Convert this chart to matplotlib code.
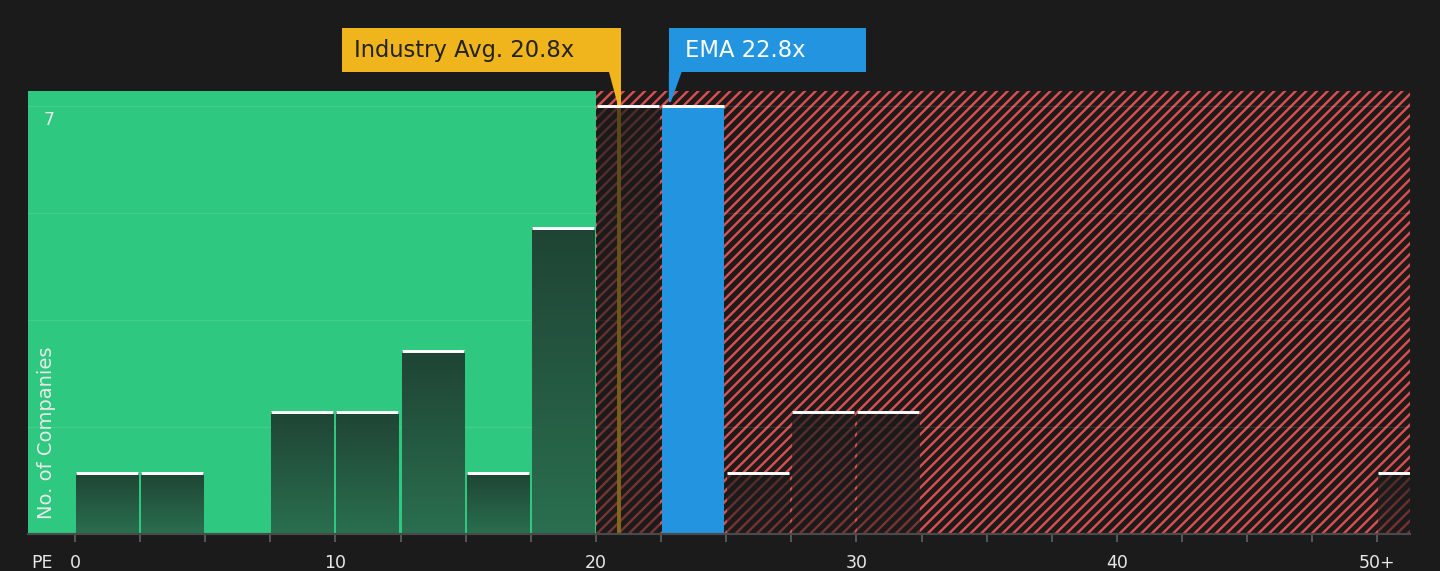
import numpy as np
import matplotlib
matplotlib.use("Agg")
import matplotlib.pyplot as plt
from matplotlib import transforms
from matplotlib.patches import Rectangle, Polygon
from matplotlib.colors import to_rgba

# ---------------- data ----------------
bin_left = [0, 2.5, 5, 7.5, 10, 12.5, 15, 17.5, 20, 22.5, 25, 27.5, 30,
            32.5, 35, 37.5, 40, 42.5, 45, 47.5, 50]
counts = [1, 1, 0, 2, 2, 3, 1, 5, 7, 7, 1, 2, 2, 0, 0, 0, 0, 0, 0, 0, 1]
bin_width = 2.5
industry_avg = 20.8
ema = 22.8
fair_cut = 20
tick_values = [0, 10, 20, 30, 40, 50]
tick_labels = ["0", "10", "20", "30", "40", "50+"]
y_grid = [0, 1.75, 3.5, 5.25, 7]
y_label_value = 7
industry_text = "Industry Avg. 20.8x"
ema_text = "EMA 22.8x"
x_name = "PE"
y_name = "No. of Companies"

# ---------------- style ----------------
BG = "#1b1b1b"
GREEN = "#2ec880"
RED_HATCH = "#d85050"
GOLD = "#f0b41c"
BLUE = "#2394e0"
TXT = "#e8e8e8"

plt.rcParams["font.family"] = ["DejaVu Sans"]
plt.rcParams["hatch.color"] = RED_HATCH
plt.rcParams["hatch.linewidth"] = 0.9

DPI = 192
fig = plt.figure(figsize=(1440 / DPI, 571 / DPI), dpi=DPI, facecolor=BG)
ax = fig.add_axes([28 / 1440, 37 / 571, 1382 / 1440, 443 / 571])
ax.set_facecolor(BG)

xmin, xmax = -1.8, 51.25
ymin, ymax = 0, 7.245
px = 1 / 26.05  # one pixel in data-x units

# background zones
ax.axvspan(xmin, fair_cut, facecolor=GREEN, edgecolor="none", zorder=0.2)
ax.axvspan(fair_cut, xmax, facecolor="#1e1a1a", edgecolor=RED_HATCH,
           hatch="//////", linewidth=0, zorder=0.2)

# grid
ax.set_axisbelow(True)
ax.set_yticks(y_grid)
ax.yaxis.grid(True, color="white", alpha=0.10, linewidth=0.5)
ax.tick_params(axis="y", length=0, labelleft=False)

# industry average line
mix = transforms.blended_transform_factory(ax.transData, ax.transAxes)
box_bottom, box_top = 1.043, 1.142
tail_tip = 0.975
line_x = industry_avg + 2.5 * px
ax.plot([line_x, line_x], [0, box_bottom], transform=mix,
        color=GOLD, linewidth=1.5, zorder=1, clip_on=False,
        solid_capstyle="butt")

# bars
gap = 0.04
bars = ax.bar(np.array(bin_left) + gap, counts, width=bin_width - 0.12,
              align="edge", facecolor="none", edgecolor="none", zorder=2)

t = np.linspace(0, 1, 256)[:, None, None]
green_bot = np.array(to_rgba("#2a6f4f"))
green_top = np.array(to_rgba("#1f4434"))
dark_bot = np.array(to_rgba(BG, 0.5))
dark_top = np.array(to_rgba(BG, 0.72))

for left, patch, c in zip(bin_left, bars.patches, counts):
    if c <= 0:
        continue
    x, w, h = patch.get_x(), patch.get_width(), patch.get_height()
    if left <= ema < left + bin_width:
        patch.set_facecolor(BLUE)
    else:
        if left + bin_width <= fair_cut:
            bot, top = green_bot, green_top
        else:
            bot, top = dark_bot, dark_top
        arr = bot * (1 - t) + top * t
        im = ax.imshow(arr, extent=[x, x + w, 0, h], origin="lower",
                       aspect="auto", interpolation="bilinear", zorder=2)
        im.set_clip_path(patch)
    ax.plot([x, x + w], [h, h], color="white", linewidth=1.1, zorder=3,
            solid_capstyle="butt")

ax.set_xlim(xmin, xmax)
ax.set_ylim(ymin, ymax)

# callouts
ind_right = line_x + 2 * px
ind_w = 279 * px
ax.add_patch(Rectangle((ind_right - ind_w, box_bottom), ind_w,
                       box_top - box_bottom, transform=mix, facecolor=GOLD,
                       edgecolor="none", clip_on=False, zorder=5))
ax.add_patch(Polygon([(ind_right - 12 * px, box_bottom + 0.001),
                      (ind_right, box_bottom + 0.001),
                      (ind_right, tail_tip),
                      (ind_right - 4 * px, tail_tip)], closed=True,
                     transform=mix, facecolor=GOLD, edgecolor="none",
                     clip_on=False, zorder=5))
ax.text(ind_right - ind_w + 12 * px, (box_bottom + box_top) / 2,
        industry_text, transform=mix, ha="left", va="center",
        fontsize=8.5, color="#222222", zorder=6, clip_on=False)

ema_w = 197 * px
ax.add_patch(Rectangle((ema, box_bottom), ema_w, box_top - box_bottom,
                       transform=mix, facecolor=BLUE, edgecolor="none",
                       clip_on=False, zorder=5))
ax.add_patch(Polygon([(ema, box_bottom + 0.001),
                      (ema + 13 * px, box_bottom + 0.001),
                      (ema + 2 * px, tail_tip),
                      (ema, tail_tip)], closed=True, transform=mix,
                     facecolor=BLUE, edgecolor="none", clip_on=False, zorder=5))
ax.text(ema + 16 * px, (box_bottom + box_top) / 2, ema_text,
        transform=mix, ha="left", va="center", fontsize=8.5,
        color="white", zorder=6, clip_on=False)

# x axis
xt = list(bin_left)
xl = [tick_labels[tick_values.index(v)] if v in tick_values else ""
      for v in xt]
ax.set_xticks(xt)
ax.set_xticklabels(xl)
ax.tick_params(axis="x", length=3, width=0.75, color="#555555",
               labelcolor=TXT, labelsize=6.5, pad=4.5)
for s in ["top", "right", "left"]:
    ax.spines[s].set_visible(False)
ax.spines["bottom"].set_color("#4a4a4a")
ax.spines["bottom"].set_linewidth(0.8)
ax.spines["bottom"].set_zorder(4)

# axis names and y label
ax.text(14 / 1382, -29 / 443, x_name, transform=ax.transAxes, ha="center",
        va="center", fontsize=6.5, color=TXT)
ax.text(21 / 1382, y_label_value - 14 / 61.14, str(y_label_value),
        transform=transforms.blended_transform_factory(ax.transAxes,
                                                       ax.transData),
        ha="center", va="center", fontsize=6.5, color=TXT, zorder=6)
ax.text(19 / 1382, 15 / 443, y_name, transform=ax.transAxes, rotation=90,
        ha="center", va="bottom", fontsize=7.3, color=TXT, zorder=6)

fig.savefig("out.png", dpi=DPI, facecolor=BG)
